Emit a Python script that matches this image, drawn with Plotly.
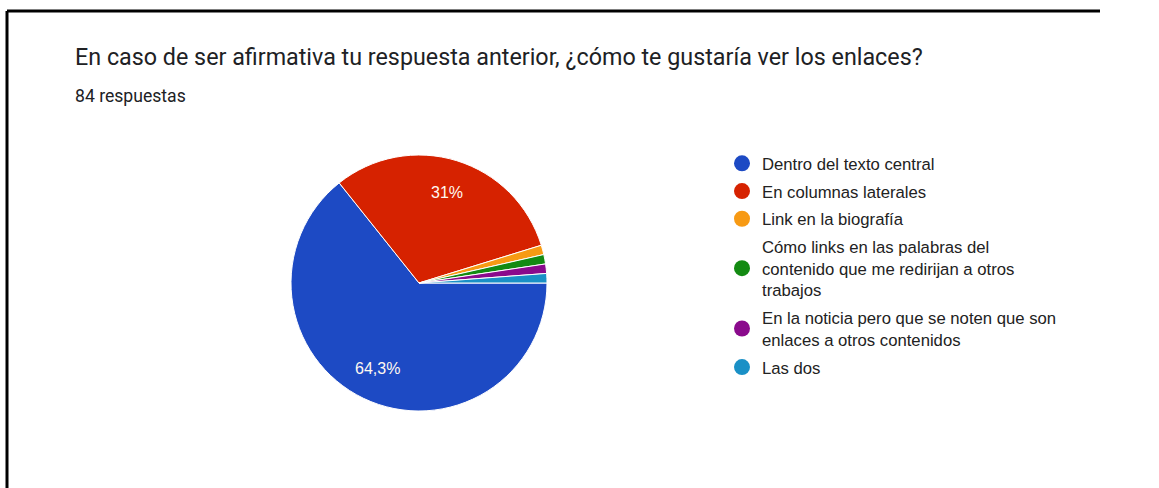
import math
import plotly.graph_objects as go

# Survey answers (84 responses)
categories = [
    "Dentro del texto central",
    "En columnas laterales",
    "Link en la biografía",
    "Cómo links en las palabras del<br>contenido que me redirijan a otros<br>trabajos",
    "En la noticia pero que se noten que son<br>enlaces a otros contenidos",
    "Las dos",
]
responses = [54, 26, 1, 1, 1, 1]
slice_labels = ["64,3%", "31%", "", "", "", ""]
colors = ["#1d4ac4", "#d62200", "#f79a14", "#138a12", "#8a0a8c", "#1a90c6"]

W, H = 1159, 488
cx, cy, r = 419, 283, 128
start_deg = 0  # first slice starts at 3 o'clock and runs clockwise

fig = go.Figure()

fig.add_trace(
    go.Pie(
        labels=categories,
        values=responses,
        textinfo="none",
        marker=dict(colors=colors, line=dict(color="white", width=1)),
        sort=False,
        direction="clockwise",
        rotation=90,
        showlegend=False,
        hoverinfo="label+percent",
        domain=dict(
            x=[(cx - r) / W, (cx + r) / W],
            y=[1 - (cy + r) / H, 1 - (cy - r) / H],
        ),
    )
)

# Round legend markers, one group per entry so the group gap spaces them out
for i, (name, col) in enumerate(zip(categories, colors)):
    fig.add_trace(
        go.Scatter(
            x=[None], y=[None], mode="markers", name=name,
            legendgroup=f"g{i}",
            marker=dict(symbol="circle", size=16, color=col),
            hoverinfo="skip",
        )
    )

annotations = [
    dict(
        text="En caso de ser afirmativa tu respuesta anterior, ¿cómo te gustaría ver los enlaces?",
        x=73 / W, y=1 - 57 / H, xref="paper", yref="paper",
        xanchor="left", yanchor="middle", showarrow=False,
        font=dict(family="Roboto", size=23.3, color="#202124"),
    ),
    dict(
        text="84 respuestas",
        x=73 / W, y=1 - 96 / H, xref="paper", yref="paper",
        xanchor="left", yanchor="middle", showarrow=False,
        font=dict(family="Roboto", size=17.6, color="#202124"),
    ),
]

# Percentage labels placed on each slice's mid-angle
total = sum(responses)
acc = 0.0
for val, lab in zip(responses, slice_labels):
    mid = start_deg + 360.0 * (acc + val / 2) / total
    acc += val
    if not lab:
        continue
    t = math.radians(mid)
    px = cx + 0.74 * r * math.cos(t)
    py = cy + 0.74 * r * math.sin(t)
    annotations.append(
        dict(
            text=lab, x=px / W, y=1 - py / H, xref="paper", yref="paper",
            xanchor="center", yanchor="middle", showarrow=False,
            font=dict(family="Arial, Liberation Sans", size=16, color="#fff8f0"),
        )
    )

fig.update_layout(
    width=W,
    height=H,
    margin=dict(l=0, r=0, t=0, b=0),
    paper_bgcolor="white",
    plot_bgcolor="white",
    xaxis=dict(visible=False),
    yaxis=dict(visible=False),
    showlegend=True,
    legend=dict(
        x=722 / W,
        y=1 - 146 / H,
        xanchor="left",
        yanchor="top",
        font=dict(family="Arial, Liberation Sans", size=16.7, color="#222222"),
        itemwidth=30,
        tracegroupgap=3,
        bgcolor="rgba(0,0,0,0)",
    ),
    annotations=annotations,
    shapes=[
        dict(type="line", xref="paper", yref="paper",
             x0=7 / W, x1=1100 / W, y0=1 - 11 / H, y1=1 - 11 / H,
             line=dict(color="black", width=3)),
        dict(type="line", xref="paper", yref="paper",
             x0=7 / W, x1=7 / W, y0=1 - 11 / H, y1=0,
             line=dict(color="black", width=3)),
    ],
)

fig.write_html(
    "out.html",
    config=dict(displayModeBar=False),
    post_script="document.documentElement.style.overflow='hidden';"
                "document.body.style.margin='0';document.body.style.overflow='hidden';",
)
